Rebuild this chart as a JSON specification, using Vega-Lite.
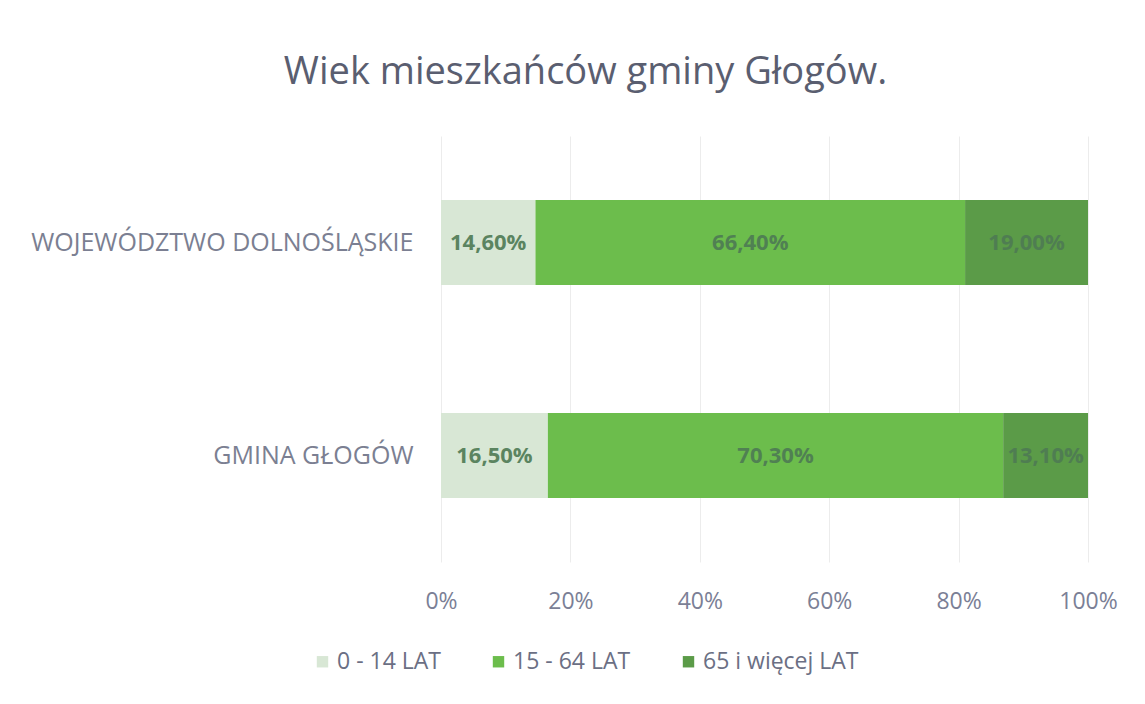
{
  "$schema": "https://vega.github.io/schema/vega-lite/v6.json",
  "autosize": "none",
  "width": 647,
  "height": 426,
  "padding": {"left": 441, "top": 136, "right": 57, "bottom": 142},
  "background": "white",
  "config": {
    "font": "Open Sans",
    "view": {"stroke": null},
    "locale": {"number": {"decimal": ",", "thousands": "\u00a0", "grouping": [3], "currency": ["", " zł"]}}
  },
  "title": {
    "text": "Wiek mieszkańców gminy Głogów.",
    "fontSize": 38,
    "fontWeight": "normal",
    "color": "#5a5e70",
    "anchor": "middle",
    "dx": -179,
    "offset": 44,
    "font": "Open Sans"
  },
  "data": {
    "values": [
      {"obszar": "WOJEWÓDZTWO DOLNOŚLĄSKIE", "grupa": "0 - 14 LAT", "udzial": 0.146},
      {"obszar": "WOJEWÓDZTWO DOLNOŚLĄSKIE", "grupa": "15 - 64 LAT", "udzial": 0.664},
      {"obszar": "WOJEWÓDZTWO DOLNOŚLĄSKIE", "grupa": "65 i więcej LAT", "udzial": 0.19},
      {"obszar": "GMINA GŁOGÓW", "grupa": "0 - 14 LAT", "udzial": 0.165},
      {"obszar": "GMINA GŁOGÓW", "grupa": "15 - 64 LAT", "udzial": 0.703},
      {"obszar": "GMINA GŁOGÓW", "grupa": "65 i więcej LAT", "udzial": 0.131}
    ]
  },
  "encoding": {
    "y": {
      "field": "obszar",
      "type": "nominal",
      "sort": ["WOJEWÓDZTWO DOLNOŚLĄSKIE", "GMINA GŁOGÓW"],
      "scale": {"paddingInner": 0.6, "paddingOuter": 0.3},
      "axis": {
        "title": null,
        "ticks": false,
        "domain": false,
        "labelPadding": 28,
        "labelFontSize": 25,
        "labelColor": "#7b7f92",
        "labelFont": "Open Sans",
        "labelLimit": 500
      }
    }
  },
  "layer": [
    {
      "mark": {"type": "bar"},
      "encoding": {
        "x": {
          "field": "udzial",
          "type": "quantitative",
          "stack": "normalize",
          "scale": {"domain": [0, 1], "nice": false},
          "axis": {
            "title": null,
            "format": ".0%",
            "values": [0, 0.2, 0.4, 0.6, 0.8, 1],
            "ticks": false,
            "domain": false,
            "grid": true,
            "gridColor": "#ececec",
            "labelFlush": false,
            "labelPadding": 28,
            "labelFontSize": 23,
            "labelColor": "#7b7f96",
            "labelFont": "Open Sans"
          }
        },
        "color": {
          "field": "grupa",
          "type": "nominal",
          "scale": {
            "domain": ["0 - 14 LAT", "15 - 64 LAT", "65 i więcej LAT"],
            "range": ["#d8e7d5", "#6cbd4c", "#5b9b48"]
          },
          "legend": {
            "title": null,
            "orient": "none",
            "direction": "horizontal",
            "legendX": -130,
            "legendY": 514,
            "symbolType": "square",
            "symbolSize": 130,
            "symbolStrokeWidth": 0,
            "labelFontSize": 23,
            "labelColor": "#6b6f84",
            "labelFont": "Open Sans",
            "columnPadding": 46,
            "labelOffset": 3
          }
        },
        "order": {"field": "grupa", "sort": "ascending"}
      }
    },
    {
      "transform": [
        {"stack": "udzial", "groupby": ["obszar"], "sort": [{"field": "grupa", "order": "ascending"}], "offset": "normalize", "as": ["x0", "x1"]},
        {"fold": ["x0", "x1"], "as": ["krawedz", "pozycja"]},
        {"aggregate": [{"op": "mean", "field": "pozycja", "as": "srodek"}], "groupby": ["obszar", "grupa", "udzial"]}
      ],
      "mark": {"type": "text", "align": "center", "baseline": "middle", "fontSize": 22, "fontWeight": "bold", "color": "#4e7a54", "opacity": 0.9, "font": "Open Sans"},
      "encoding": {
        "x": {"field": "srodek", "type": "quantitative"},
        "text": {"field": "udzial", "type": "quantitative", "format": ".2%"}
      }
    }
  ]
}
